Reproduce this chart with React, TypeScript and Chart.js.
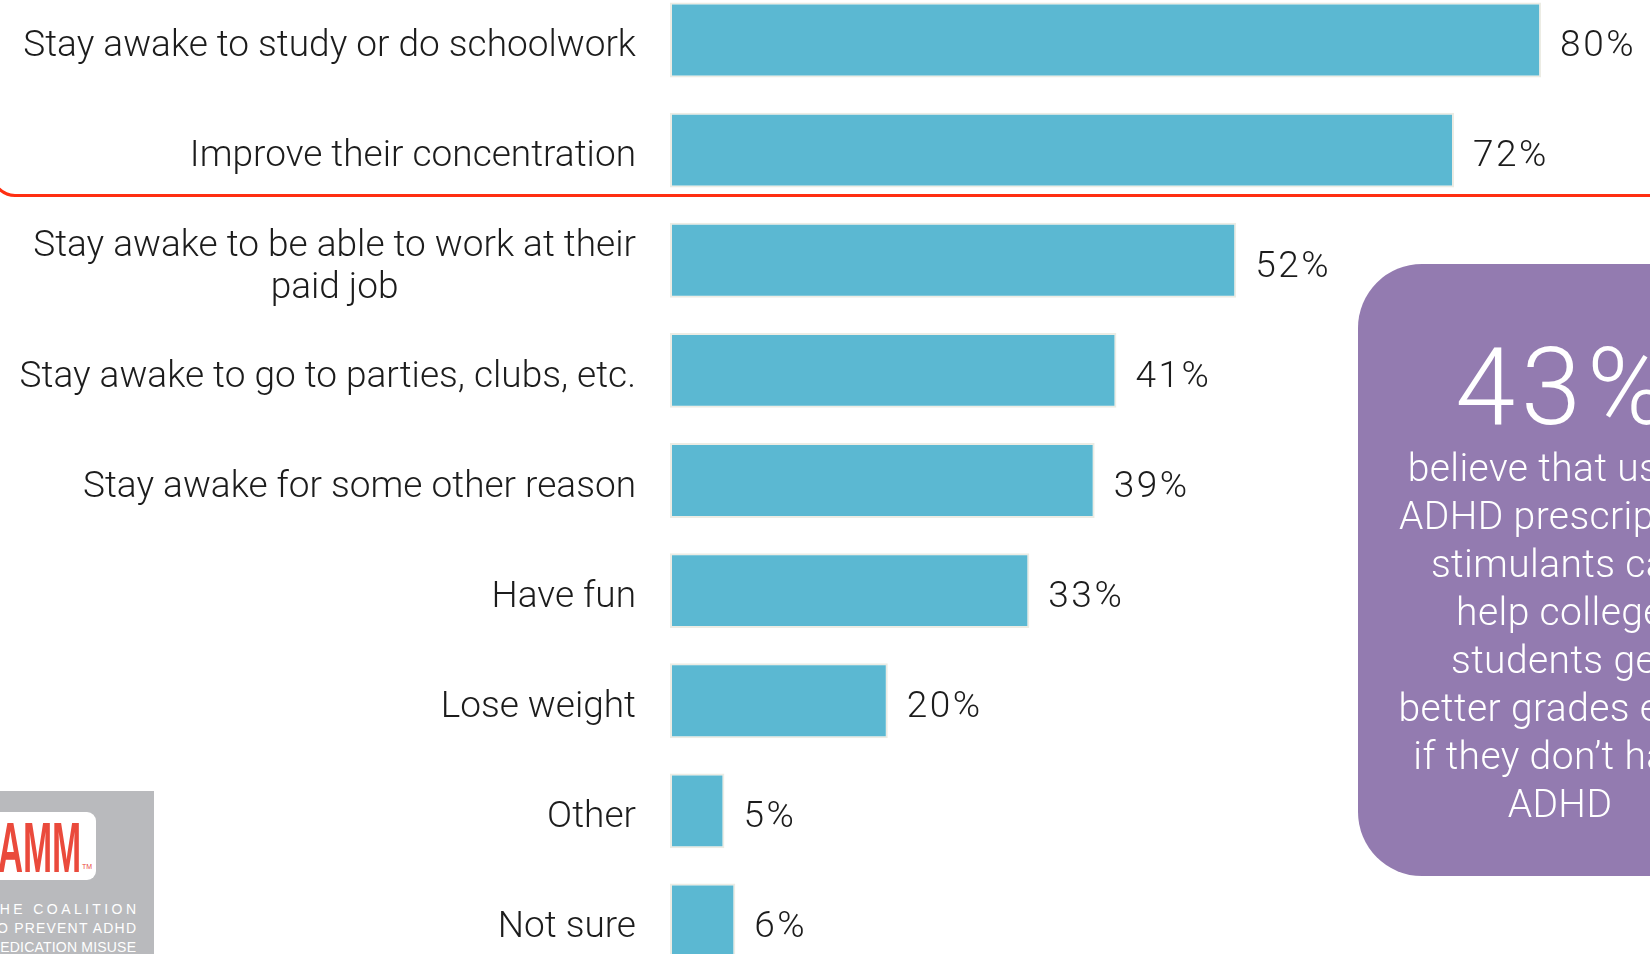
import React, { useEffect, useRef } from "react";
import { Chart, registerables } from "chart.js";

Chart.register(...registerables);

// ---- data ----
const categories: string[][] = [
  ["Stay awake to study or do schoolwork"],
  ["Improve their concentration"],
  ["Stay awake to be able to work at their", "paid job"],
  ["Stay awake to go to parties, clubs, etc."],
  ["Stay awake for some other reason"],
  ["Have fun"],
  ["Lose weight"],
  ["Other"],
  ["Not sure"],
];
const values: number[] = [80, 72, 52, 41, 39, 33, 20, 5, 6];
const valueLabels: string[] = values.map((v) => `${v}%`);

const calloutValue = "43%";
const calloutLines: string[] = [
  "believe that using",
  "ADHD prescription",
  "stimulants can",
  "help college",
  "students get",
  "better grades even",
  "if they don\u2019t have",
  "ADHD",
];
const logoName = "CPAMM";
const logoLines: string[] = ["THE COALITION", "TO PREVENT ADHD", "MEDICATION MISUSE"];

const LIGHT = "Roboto, 'Liberation Sans', Arial, sans-serif";
const FONT = "'Liberation Sans', Arial, Helvetica, sans-serif";

const labelPlugin = {
  id: "barLabels",
  afterDatasetsDraw(chart: any) {
    const { ctx, chartArea } = chart;
    const yScale = chart.scales.y;
    const meta = chart.getDatasetMeta(0);
    ctx.save();
    ctx.fillStyle = "#1c1c1c";
    ctx.font = `300 37px ${LIGHT}`;
    ctx.textBaseline = "middle";
    const right = chartArea.left - 34;
    const lineH = 42;
    categories.forEach((lines, i) => {
      const cy = yScale.getPixelForValue(i);
      ctx.letterSpacing = "0px";
      const w = Math.max(...lines.map((l) => ctx.measureText(l).width));
      ctx.textAlign = "center";
      lines.forEach((l, j) => {
        ctx.fillText(l, right - w / 2, cy + (j - (lines.length - 1) / 2) * lineH + 7);
      });
      const bar = meta.data[i];
      ctx.textAlign = "left";
      ctx.letterSpacing = "2.5px";
      ctx.fillText(valueLabels[i], bar.x + 19, cy + 7);
    });
    ctx.restore();
  },
};

export default function App() {
  const canvasRef = useRef<HTMLCanvasElement | null>(null);

  useEffect(() => {
    document.body.style.margin = "0";
    const canvas = canvasRef.current;
    if (!canvas) return;
    const chart = new Chart(canvas, {
      type: "bar",
      data: {
        labels: categories.map((c) => c.join(" ")),
        datasets: [
          {
            data: values,
            backgroundColor: "#5bb8d2",
            borderColor: "#ecece4",
            borderWidth: 2,
            borderSkipped: false,
            barPercentage: 0.68,
            categoryPercentage: 1,
          },
        ],
      },
      options: {
        indexAxis: "y",
        animation: false,
        responsive: false,
        maintainAspectRatio: false,
        layout: { padding: { left: 670, right: 0, top: 0, bottom: 0 } },
        scales: {
          x: { display: false, min: 0, max: 90 },
          y: { display: false },
        },
        plugins: {
          legend: { display: false },
          tooltip: { enabled: false },
        },
      },
      plugins: [labelPlugin],
    } as any);
    return () => chart.destroy();
  }, []);

  return (
    <div
      style={{
        position: "fixed",
        left: 0,
        top: 0,
        width: 1650,
        height: 954,
        overflow: "hidden",
        background: "#ffffff",
        fontFamily: FONT,
      }}
    >
      {/* red highlight frame around top two items */}
      <div
        style={{
          position: "absolute",
          left: -9,
          top: -120,
          width: 1720,
          height: 317,
          border: "3px solid #ff2f12",
          borderRadius: 24,
          boxSizing: "border-box",
        }}
      />
      <canvas
        ref={canvasRef}
        width={1650}
        height={991}
        style={{ position: "absolute", left: 0, top: -15, width: 1650, height: 991 }}
      />
      {/* callout box */}
      <div
        style={{
          position: "absolute",
          left: 1358,
          top: 264,
          width: 404,
          height: 612,
          borderRadius: 64,
          background: "#937bb0",
          color: "#ffffff",
          fontFamily: LIGHT,
          fontWeight: 300,
        }}
      >
        <div
          style={{
            position: "absolute",
            left: 4,
            width: 404,
            top: 335 - 264,
            fontSize: 108,
            lineHeight: "105px",
            textAlign: "center",
            whiteSpace: "nowrap",
            letterSpacing: 6,
          }}
        >
          {calloutValue}
        </div>
        <div
          style={{
            position: "absolute",
            left: 0,
            width: 404,
            top: 444 - 264,
            fontSize: 39,
            lineHeight: "48px",
            textAlign: "center",
            whiteSpace: "nowrap",
            letterSpacing: 0.4,
          }}
        >
          {calloutLines.map((l, i) => (
            <div key={i}>{l}</div>
          ))}
        </div>
      </div>
      {/* logo */}
      <div
        style={{
          position: "absolute",
          left: 0,
          top: 791,
          width: 154,
          height: 200,
          background: "#b9babd",
          overflow: "hidden",
        }}
      >
        <div
          style={{
            position: "absolute",
            left: -40,
            top: 21,
            width: 136,
            height: 68,
            background: "#ffffff",
            borderRadius: 9,
          }}
        />
        <div
          style={{
            position: "absolute",
            right: 154 - 81,
            top: 22,
            fontSize: 70,
            lineHeight: "70px",
            fontWeight: 700,
            color: "#ea4a3c",
            whiteSpace: "nowrap",
            transform: "scaleX(0.5)",
            transformOrigin: "right center",
          }}
        >
          {logoName}
        </div>
        <div
          style={{
            position: "absolute",
            left: 82,
            top: 72,
            fontSize: 7,
            color: "#ea4a3c",
          }}
        >
          TM
        </div>
        {logoLines.map((l, i) => {
          const ls = [3.4, 1.2, 0.2][i];
          return (
            <div
              key={i}
              style={{
                position: "absolute",
                right: 154 - 136 - ls,
                top: 110 + i * 19,
                fontSize: 14,
                lineHeight: "16px",
                color: "#ffffff",
                whiteSpace: "nowrap",
                letterSpacing: ls,
              }}
            >
              {l}
            </div>
          );
        })}
      </div>
    </div>
  );
}
